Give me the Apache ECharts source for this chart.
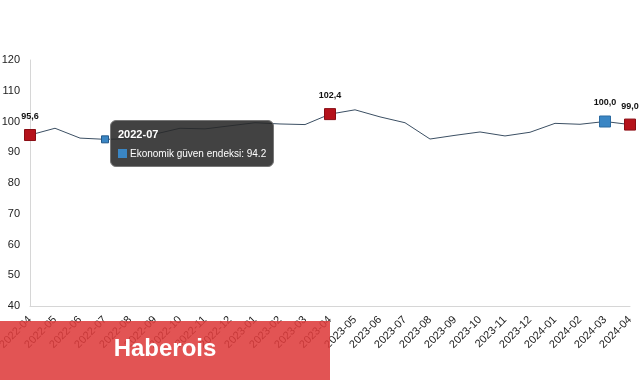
<!DOCTYPE html>
<html><head><meta charset="utf-8">
<script src="https://cdn.jsdelivr.net/npm/echarts@6/dist/echarts.min.js"></script>
<style>html,body{margin:0;padding:0;background:#fff}#c{width:641px;height:380px}</style>
</head><body><div id="c"></div>
<script>
const categories = ['2022-04','2022-05','2022-06','2022-07','2022-08','2022-09','2022-10','2022-11','2022-12','2023-01','2023-02','2023-03','2023-04','2023-05','2023-06','2023-07','2023-08','2023-09','2023-10','2023-11','2023-12','2024-01','2024-02','2024-03','2024-04'];
const values = [95.6,97.8,94.6,94.2,94.4,95.9,97.8,97.6,98.6,99.6,99.2,99.0,102.4,103.8,101.5,99.6,94.3,95.5,96.6,95.3,96.5,99.4,99.1,100.0,99.0];
const redIdx = [0,12,24];
const blueIdx = [23];
const hoverIdx = 3;
const yTicks = [40,50,60,70,80,90,100,110,120];
const seriesName = 'Ekonomik güven endeksi';

const fmt = v => v.toFixed(1).replace('.', ',');
const data = values.map((v,i) => {
  if (redIdx.includes(i)) return {value:v, symbol:'rect', symbolSize:11, itemStyle:{color:'#b5121b', borderColor:'#8a0d14', borderWidth:1}, label:{show:true}};
  if (blueIdx.includes(i)) return {value:v, symbol:'rect', symbolSize:11, itemStyle:{color:'#3a86c4', borderColor:'#2a6aa0', borderWidth:1}, label:{show:true}};
  if (i === hoverIdx) return {value:v, symbol:'rect', symbolSize:7, itemStyle:{color:'#3a86c4', borderColor:'#24598a', borderWidth:1}};
  return {value:v, symbol:'none'};
});

const chart = echarts.init(document.getElementById('c'));
chart.setOption({
  animation:false,
  grid:{left:30,right:11,top:60,bottom:74, containLabel:false, outerBoundsMode:'none'},
  tooltip:{
    trigger:'item', triggerOn:'none', alwaysShowContent:true,
    position:[110,120],
    backgroundColor:'rgba(40,40,40,0.88)', borderColor:'#777', borderWidth:1,
    padding:[7,7], extraCssText:'border-radius:6px;box-shadow:none;',
    formatter: p => '<div style="font:bold 11px Liberation Sans,Arial,sans-serif;color:#fff;margin-bottom:8px">'+categories[p.dataIndex]+'</div>'+
      '<div style="font:10px Liberation Sans,Arial,sans-serif;color:#fff"><span style="display:inline-block;width:9px;height:9px;background:#3a86c4;margin-right:3px;vertical-align:-1px"></span>'+seriesName+': '+values[p.dataIndex]+'</div>'
  },
  xAxis:{type:'category', data:categories, boundaryGap:false,
    axisLine:{lineStyle:{color:'#d6d6d6'}}, axisTick:{show:false},
    axisLabel:{rotate:45, interval:0, color:'#222', fontSize:11, fontFamily:'Liberation Sans', margin:12}},
  yAxis:{type:'value', min:40, max:120, interval:10,
    axisLine:{show:true, lineStyle:{color:'#d6d6d6'}}, axisTick:{show:false}, splitLine:{show:false},
    axisLabel:{color:'#222', fontSize:11, fontFamily:'Liberation Sans', margin:10,
      customValues: yTicks}},
  series:[{name:seriesName, type:'line', data:data, showSymbol:true,
    lineStyle:{color:'#3b4f63', width:1},
    label:{show:false, position:'top', distance:8, fontSize:9, fontWeight:'bold', color:'#111', fontFamily:'Liberation Sans', formatter:p=>fmt(p.value)},
    emphasis:{disabled:true}}],
  graphic:[
    {type:'rect', z:100, shape:{x:0,y:321,width:330,height:59}, style:{fill:'rgba(222,60,60,0.88)'}},
    {type:'text', z:101, x:165, y:349, style:{text:'Haberois', fill:'#fff', font:'bold 24px Liberation Sans, Arial, sans-serif', textAlign:'center', textVerticalAlign:'middle'}}
  ]
});
chart.dispatchAction({type:'showTip', seriesIndex:0, dataIndex:hoverIdx});
</script></body></html>
